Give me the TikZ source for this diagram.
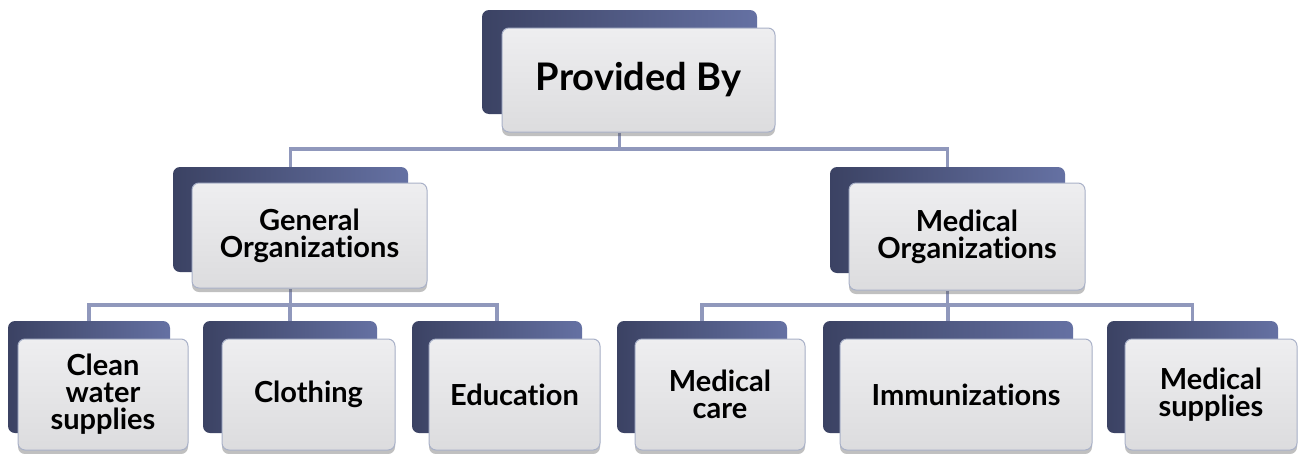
\documentclass[tikz,border=0pt]{standalone}
\usepackage{fontspec}
\setmainfont{Lato}[Ligatures=NoCommon]
\usetikzlibrary{shadows,backgrounds}
\definecolor{backL}{HTML}{3B4263}
\definecolor{backR}{HTML}{6571A3}
\definecolor{frontT}{HTML}{EEEEF0}
\definecolor{frontB}{HTML}{DCDCDE}
\definecolor{frontD}{HTML}{A9B1C8}
\definecolor{connD}{HTML}{9098BC}
\tikzset{
  backbox/.style={rounded corners=7pt, left color=backL, right color=backR, draw=none, inner sep=0pt},
  frontbox/.style={rounded corners=7pt, top color=frontT, bottom color=frontB, draw=frontD, line width=1pt,
    inner sep=0pt, align=center, text=black,
    drop shadow={shadow xshift=0pt, shadow yshift=-4pt, opacity=0.35, fill=black!70},
    font=\bfseries\fontsize{29}{27}\selectfont},
  conn/.style={draw=connD, line width=3.5pt}
}
\begin{document}
\begin{tikzpicture}[x=1pt,y=-1pt]
\useasboundingbox (0,0) rectangle (1303,453);
% top
\node[backbox, minimum width=275pt, minimum height=104pt] (topb) at (619.5,62) {};
\node[frontbox, minimum width=273pt, minimum height=104pt, font=\bfseries\fontsize{38}{42}\selectfont] (top) at (638.5,80) {Provided By};
% second level
\node[backbox, minimum width=235pt, minimum height=105pt] (gob) at (290.5,219.5) {};
\node[frontbox, minimum width=235pt, minimum height=105pt] (go) at (309.5,235.5) {General\\Organizations};
\node[backbox, minimum width=235pt, minimum height=106pt] (mob) at (947.5,220) {};
\node[frontbox, minimum width=236pt, minimum height=107pt] (mo) at (967,236.5) {Medical\\Organizations};
% bottom row
\node[backbox, minimum width=162pt, minimum height=112pt] (cwb) at (89,377) {};
\node[frontbox, minimum width=170pt, minimum height=111pt] (cw) at (103,394.5) {Clean\\water\\supplies};
\node[backbox, minimum width=174pt, minimum height=112pt] (clb) at (290,377) {};
\node[frontbox, minimum width=173pt, minimum height=111pt] (cl) at (308.5,394.5) {Clothing};
\node[backbox, minimum width=170pt, minimum height=112pt] (edb) at (497,377) {};
\node[frontbox, minimum width=171pt, minimum height=111pt] (ed) at (514.5,394.5) {Education};
\node[backbox, minimum width=170pt, minimum height=112pt] (mcb) at (702,377) {};
\node[frontbox, minimum width=170pt, minimum height=111pt] (mc) at (720,394.5) {Medical\\care};
\node[backbox, minimum width=250pt, minimum height=112pt] (imb) at (948,377) {};
\node[frontbox, minimum width=252pt, minimum height=111pt] (im) at (966,394.5) {Immunizations};
\node[backbox, minimum width=171pt, minimum height=112pt] (msb) at (1192.5,377) {};
\node[frontbox, minimum width=172pt, minimum height=111pt] (ms) at (1211,394.5) {Medical\\supplies};
% buses
\coordinate (bus1) at (0,149);
\coordinate (bus2) at (0,305);
\begin{scope}[on background layer]
\fill[white] (0,0) rectangle (1303,453);
\draw[conn] (top.south -| topb) -- (bus1 -| topb);
\draw[conn] (gob.north) -- (bus1 -| gob) -- (bus1 -| mob) -- (mob.north);
\draw[conn] (go.south -| gob) -- (bus2 -| gob);
\draw[conn] (cwb.north) -- (bus2 -| cwb) -- (bus2 -| edb) -- (edb.north);
\draw[conn] (bus2 -| clb) -- (clb.north);
\draw[conn] (mo.south -| mob) -- (bus2 -| mob);
\draw[conn] (mcb.north) -- (bus2 -| mcb) -- (bus2 -| msb) -- (msb.north);
\draw[conn] (bus2 -| imb) -- (imb.north);
\end{scope}
\end{tikzpicture}
\end{document}
